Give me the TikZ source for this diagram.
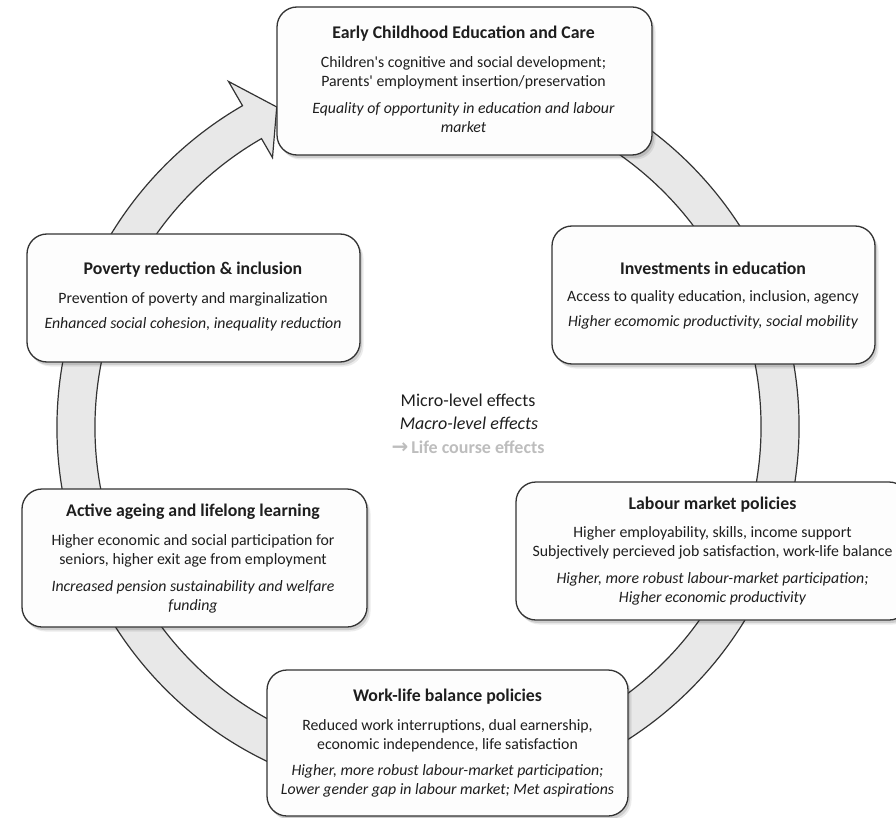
\documentclass[tikz,border=0pt]{standalone}
\usepackage{fontspec}
\setmainfont{Carlito}
\newfontfamily\arrowfont{DejaVu Sans}
\usetikzlibrary{calc,shadows}
\definecolor{ringfill}{HTML}{E8E8E8}
\definecolor{edgec}{HTML}{333333}
\definecolor{txt}{HTML}{1E1E1E}
\definecolor{boxfill}{HTML}{FDFDFD}
\definecolor{lifegray}{HTML}{BDBDBD}
\tikzset{
  ring/.style={fill=ringfill, draw=edgec, line width=1.2pt, line join=miter},
  box/.style={rectangle, rounded corners=20pt, fill=boxfill, draw=edgec, line width=1.3pt,
    inner sep=0pt, outer sep=0pt,
    drop shadow={shadow xshift=2pt, shadow yshift=-3pt, fill=black, opacity=0.12},
    drop shadow={shadow xshift=3.5pt, shadow yshift=-4.5pt, fill=black, opacity=0.08}},
  ttl/.style={font=\bfseries\fontsize{17.8}{19}\selectfont, text=txt, inner sep=0pt},
  bodyt/.style={font=\fontsize{15.8}{19}\selectfont, text=txt, align=center, inner sep=0pt},
  italt/.style={font=\itshape\fontsize{15.8}{19}\selectfont, text=txt, align=center, inner sep=0pt},
  ctr/.style={font=\fontsize{18}{22}\selectfont, text=txt, inner sep=0pt}
}
\begin{document}
\begin{tikzpicture}[x=1pt,y=1pt]
\useasboundingbox (0,0) rectangle (896,-818);
\clip (0,0) rectangle (896,-818);
\coordinate (C) at (428,-427);
% circular arrow
\draw[ring] ($(C)+(80:371)$) arc[start angle=80, end angle=-240, radius=371]
  -- ($(C)+(120:399)$) -- ($(C)+(115.3:354)$) -- ($(C)+(120:311)$)
  -- ($(C)+(120:333)$) arc[start angle=120, end angle=440, radius=333] -- cycle;
% boxes
\node[box, minimum width=375, minimum height=148] (ecec) at (464.5,-81) {};
\node[box, minimum width=323, minimum height=138] (inv) at (713.5,-295) {};
\node[box, minimum width=393, minimum height=138] (lab) at (712.5,-551) {};
\node[box, minimum width=361, minimum height=146] (wlb) at (447.5,-743) {};
\node[box, minimum width=345, minimum height=138] (act) at (194.5,-558) {};
\node[box, minimum width=333, minimum height=128] (pov) at (193.5,-298) {};
% texts: ECEC
\node[ttl] (ecec-t) at (463.5,-34) {Early Childhood Education and Care};
\node[bodyt] (ecec-b) at (463.5,-72.5) {Children\textquotesingle s cognitive and social development;\\Parents\textquotesingle{} employment insertion/preservation};
\node[italt] (ecec-i) at (463.5,-118) {Equality of opportunity in education and labour\\market};
% investments
\node[ttl] (inv-t) at (713,-268) {Investments in education};
\node[bodyt] (inv-b) at (713,-297) {Access to quality education, inclusion, agency};
\node[italt] (inv-i) at (713,-322) {Higher ecomomic productivity, social mobility};
% labour
\node[ttl] (lab-t) at (712.5,-505) {Labour market policies};
\node[bodyt] (lab-b) at (712.5,-543) {Higher employability, skills, income support\\Subjectively percieved job satisfaction, work-life balance};
\node[italt] (lab-i) at (712.5,-589) {Higher, more robust labour-market participation;\\Higher economic productivity};
% work-life
\node[ttl] (wlb-t) at (447.5,-697) {Work-life balance policies};
\node[bodyt] (wlb-b) at (447.5,-736) {Reduced work interruptions, dual earnership,\\economic independence, life satisfaction};
\node[italt] (wlb-i) at (447.5,-781) {Higher, more robust labour-market participation;\\Lower gender gap in labour market; Met aspirations};
% active ageing
\node[ttl] (act-t) at (193,-512) {Active ageing and lifelong learning};
\node[bodyt] (act-b) at (193,-551) {Higher economic and social participation for\\seniors, higher exit age from employment};
\node[italt] (act-i) at (193,-597) {Increased pension sustainability and welfare\\funding};
% poverty
\node[ttl] (pov-t) at (193,-270) {Poverty reduction \& inclusion};
\node[bodyt] (pov-b) at (193,-299) {Prevention of poverty and marginalization};
\node[italt] (pov-i) at (193,-324) {Enhanced social cohesion, inequality reduction};
% centre legend
\node[ctr] (micro) at (468,-400) {Micro-level effects};
\node[ctr, font=\itshape\fontsize{18}{22}\selectfont] (macro) at (469,-423) {Macro-level effects};
\node[ctr, text=lifegray, font=\bfseries\fontsize{18}{22}\selectfont] (life) at (468,-447) {{\arrowfont\fontsize{20}{22}\selectfont →}\,Life course effects};
\end{tikzpicture}
\end{document}
